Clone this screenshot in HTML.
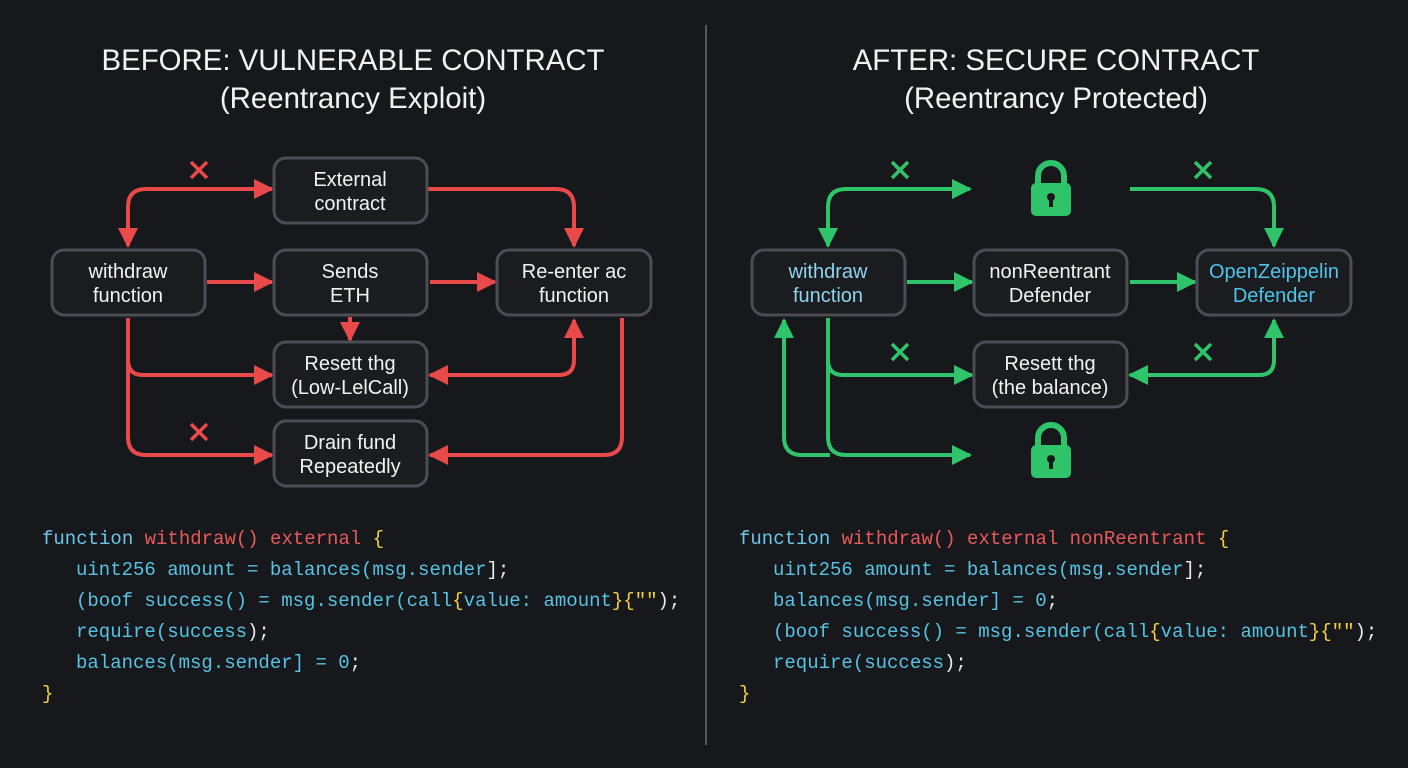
<!DOCTYPE html>
<html><head><meta charset="utf-8"><style>
html,body{margin:0;padding:0;background:#16181c;}
svg{display:block}
.t{font-family:"Liberation Sans",sans-serif;fill:#f2f2f2;}
.c{font-family:"Liberation Mono",monospace;font-size:19px;}
</style></head><body>
<svg width="1408" height="768" viewBox="0 0 1408 768" xmlns="http://www.w3.org/2000/svg">
<defs>
<marker id="r" viewBox="0 0 10 10" refX="9" refY="5" markerWidth="5" markerHeight="5" orient="auto-start-reverse" markerUnits="strokeWidth"><path d="M0,0 L10,5 L0,10 z" fill="#e84a4a"/></marker>
<marker id="g" viewBox="0 0 10 10" refX="9" refY="5" markerWidth="5" markerHeight="5" orient="auto-start-reverse" markerUnits="strokeWidth"><path d="M0,0 L10,5 L0,10 z" fill="#2fc46a"/></marker>
</defs>
<rect width="1408" height="768" fill="#16181c"/>
<line x1="706" y1="25" x2="706" y2="745" stroke="#55585e" stroke-width="2"/>
<text class="t" x="353" y="70" font-size="29.4" text-anchor="middle">BEFORE: VULNERABLE CONTRACT</text>
<text class="t" x="353" y="108" font-size="29.4" text-anchor="middle">(Reentrancy Exploit)</text>
<text class="t" x="1056" y="70" font-size="29.4" text-anchor="middle">AFTER: SECURE CONTRACT</text>
<text class="t" x="1056" y="108" font-size="29.4" text-anchor="middle">(Reentrancy Protected)</text>

<g fill="none" stroke="#e84a4a" stroke-width="4">
<path d="M128,246 L128,207 Q128,189 146,189 L272,189" marker-start="url(#r)" marker-end="url(#r)"/>
<path d="M428,189 L556,189 Q574,189 574,207 L574,246" marker-end="url(#r)"/>
<path d="M207,282 L272,282" marker-end="url(#r)"/>
<path d="M430,282 L495,282" marker-end="url(#r)"/>
<path d="M350,317 L350,340" marker-end="url(#r)"/>
<path d="M128,318 L128,437 Q128,455 146,455 L272,455" marker-end="url(#r)"/>
<path d="M128,360 Q128,375 143,375 L272,375" marker-end="url(#r)"/>
<path d="M574,320 L574,360 Q574,375 559,375 L430,375" marker-start="url(#r)" marker-end="url(#r)"/>
<path d="M622,318 L622,437 Q622,455 604,455 L430,455" marker-end="url(#r)"/>
</g>
<g stroke="#e84a4a" stroke-width="3.5">
<path d="M191,162 L207,178 M207,162 L191,178"/>
<path d="M191,424 L207,440 M207,424 L191,440"/>
</g>

<g fill="#1a1c20" stroke="#4a4d53" stroke-width="3">
<rect x="274" y="158" width="153" height="65" rx="12"/>
<rect x="52" y="250" width="153" height="65" rx="12"/>
<rect x="274" y="250" width="153" height="65" rx="12"/>
<rect x="497" y="250" width="154" height="65" rx="12"/>
<rect x="274" y="342" width="153" height="65" rx="12"/>
<rect x="274" y="421" width="153" height="65" rx="12"/>
</g>
<g class="t" font-size="20" text-anchor="middle">
<text x="350" y="186">External</text><text x="350" y="210">contract</text>
<text x="128" y="278">withdraw</text><text x="128" y="302">function</text>
<text x="350" y="278">Sends</text><text x="350" y="302">ETH</text>
<text x="574" y="278">Re-enter ac</text><text x="574" y="302">function</text>
<text x="350" y="370">Resett thg</text><text x="350" y="394">(Low-LelCall)</text>
<text x="350" y="449">Drain fund</text><text x="350" y="473">Repeatedly</text>
</g>

<g fill="none" stroke="#2fc46a" stroke-width="4">
<path d="M828,246 L828,207 Q828,189 846,189 L970,189" marker-start="url(#g)" marker-end="url(#g)"/>
<path d="M1130,189 L1256,189 Q1274,189 1274,207 L1274,246" marker-end="url(#g)"/>
<path d="M907,282 L972,282" marker-end="url(#g)"/>
<path d="M1130,282 L1195,282" marker-end="url(#g)"/>
<path d="M828,318 L828,437 Q828,455 846,455 L970,455" marker-end="url(#g)"/>
<path d="M828,360 Q828,375 843,375 L972,375" marker-end="url(#g)"/>
<path d="M784,320 L784,437 Q784,455 802,455 L830,455" marker-start="url(#g)"/>
<path d="M1274,320 L1274,360 Q1274,375 1259,375 L1130,375" marker-start="url(#g)" marker-end="url(#g)"/>
</g>
<g stroke="#2fc46a" stroke-width="3.5">
<path d="M892,162 L908,178 M908,162 L892,178"/>
<path d="M1195,162 L1211,178 M1211,162 L1195,178"/>
<path d="M892,344 L908,360 M908,344 L892,360"/>
<path d="M1195,344 L1211,360 M1211,344 L1195,360"/>
</g>
<g fill="#2fc46a">
<path d="M1038,184 L1038,176 A13,13 0 0 1 1064,176 L1064,184" fill="none" stroke="#2fc46a" stroke-width="6"/>
<rect x="1031" y="183" width="40" height="33" rx="5"/>
<path d="M1038,446 L1038,438 A13,13 0 0 1 1064,438 L1064,446" fill="none" stroke="#2fc46a" stroke-width="6"/>
<rect x="1031" y="445" width="40" height="33" rx="5"/>
</g>
<g fill="#16181c">
<circle cx="1051" cy="197" r="4"/><rect x="1049" y="198" width="4" height="9"/>
<circle cx="1051" cy="459" r="4"/><rect x="1049" y="460" width="4" height="9"/>
</g>
<g fill="#1a1c20" stroke="#4a4d53" stroke-width="3">
<rect x="752" y="250" width="153" height="65" rx="12"/>
<rect x="974" y="250" width="153" height="65" rx="12"/>
<rect x="1197" y="250" width="154" height="65" rx="12"/>
<rect x="974" y="342" width="153" height="65" rx="12"/>
</g>
<g class="t" font-size="20" text-anchor="middle">
<text x="828" y="278" style="fill:#8fd3ee">withdraw</text><text x="828" y="302" style="fill:#8fd3ee">function</text>
<text x="1050" y="278">nonReentrant</text><text x="1050" y="302">Defender</text>
<text x="1274" y="278" style="fill:#4fc3e8">OpenZeippelin</text><text x="1274" y="302" style="fill:#4fc3e8">Defender</text>
<text x="1050" y="370">Resett thg</text><text x="1050" y="394">(the balance)</text>
</g>

<g class="c" fill="#56c3e3">
<text x="42" y="544"><tspan fill="#6cc6e8">function </tspan><tspan fill="#e85a5a">withdraw() external </tspan><tspan fill="#f5d142">{</tspan></text>
<text x="76" y="575">uint256 amount = balances(msg.sender<tspan fill="#e8e8e8">];</tspan></text>
<text x="76" y="606">(boof success() = msg.sender(call<tspan fill="#f5d142">{</tspan>value: amount<tspan fill="#f5d142">}{""</tspan><tspan fill="#e8e8e8">);</tspan></text>
<text x="76" y="637">require(success<tspan fill="#e8e8e8">);</tspan></text>
<text x="76" y="668">balances(msg.sender] = 0<tspan fill="#e8e8e8">;</tspan></text>
<text x="42" y="699" fill="#f5d142">}</text>
</g>
<g class="c" fill="#56c3e3">
<text x="739" y="544"><tspan fill="#6cc6e8">function </tspan><tspan fill="#e85a5a">withdraw() external nonReentrant </tspan><tspan fill="#f5d142">{</tspan></text>
<text x="773" y="575">uint256 amount = balances(msg.sender<tspan fill="#e8e8e8">];</tspan></text>
<text x="773" y="606">balances(msg.sender] = 0<tspan fill="#e8e8e8">;</tspan></text>
<text x="773" y="637">(boof success() = msg.sender(call<tspan fill="#f5d142">{</tspan>value: amount<tspan fill="#f5d142">}{""</tspan><tspan fill="#e8e8e8">);</tspan></text>
<text x="773" y="668">require(success<tspan fill="#e8e8e8">);</tspan></text>
<text x="739" y="699" fill="#f5d142">}</text>
</g>
</svg>
</body></html>
